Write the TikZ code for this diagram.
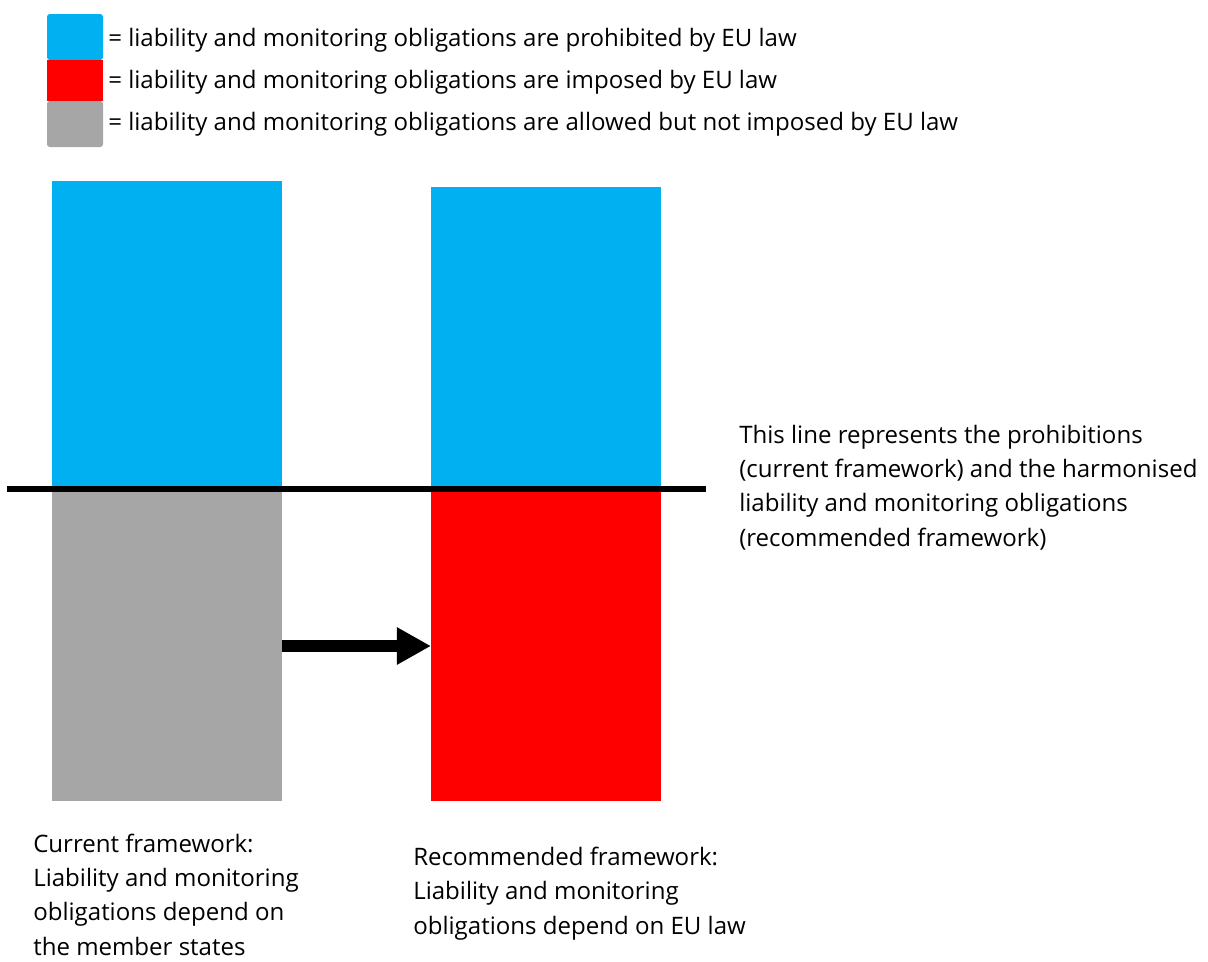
\documentclass[tikz,border=0pt]{standalone}
\usepackage{fontspec}
\setmainfont{Open Sans}
\usetikzlibrary{arrows.meta}
\definecolor{lawblue}{HTML}{00B0F0}
\definecolor{lawred}{HTML}{FF0000}
\definecolor{lawgray}{HTML}{A6A6A6}
\tikzset{
	BarPart/.style={draw=none,inner sep=0pt,outer sep=0pt,anchor=north west,
    minimum width=5.75cm},
	KeyBox/.style={draw=none,inner sep=0pt,outer sep=0pt,anchor=north west,
    minimum width=1.4cm},
	KeyText/.style={anchor=base west,inner sep=0pt,font=\fontsize{17.1}{24.2}\selectfont},
	Caption/.style={anchor=base west,inner sep=0pt,align=left,
    font=\fontsize{17.1}{24.2}\selectfont}% base = last line
		}
\begin{document}
\begin{tikzpicture}[x=0.025cm,y=-0.025cm]
	\useasboundingbox (0,0) rectangle (1208,961);
	% legend
	\node[KeyBox,fill=lawblue,minimum height=1.15cm,rounded corners=2pt] (kblue) at (47,14) {};
	\node[KeyBox,fill=lawred,minimum height=1.025cm] (kred) at (47,60) {};
	\node[KeyBox,fill=lawgray,minimum height=1.15cm,rounded corners=2pt] (kgray) at (47,101) {};
	\node[KeyText] (tblue) at (108,46) {= liability and monitoring obligations are prohibited by EU law};
	\node[KeyText] (tred) at (108,88) {= liability and monitoring obligations are imposed by EU law};
	\node[KeyText] (tgray) at (108,130) {= liability and monitoring obligations are allowed but not imposed by EU law};

	% current framework
	\node[BarPart,fill=lawblue,minimum height=7.675cm] (curtop) at (52,181) {};
	\node[BarPart,fill=lawgray,minimum height=7.825cm] (curbot) at (52,488) {};
	% recommended framework
	\node[BarPart,fill=lawblue,minimum height=7.525cm] (rectop) at (431,187) {};
	\node[BarPart,fill=lawred,minimum height=7.825cm] (recbot) at (431,488) {};

	% harmonisation line
	\coordinate (LA) at (7,489);
	\coordinate (LB) at (706,489);
	\draw[line width=4.3pt] (LA)--(LB);

	\draw[line width=8.5pt,-{Triangle[length=0.85cm,width=0.875cm]}]
		(curbot.east |- 0,646) -- (recbot.west |- 0,646);

	\node[Caption] (linetxt) at (739,546) {This line represents the prohibitions\\
		(current framework) and the harmonised\\liability and monitoring obligations\\
		(recommended framework)};
	\node[Caption] (curtxt) at (33,955) {Current framework:\\Liability and monitoring\\
		obligations depend on\\the member states};
	\node[Caption] (rectxt) at (413,934) {Recommended framework:\\Liability and monitoring\\
		obligations depend on EU law};
\end{tikzpicture}
\end{document}
